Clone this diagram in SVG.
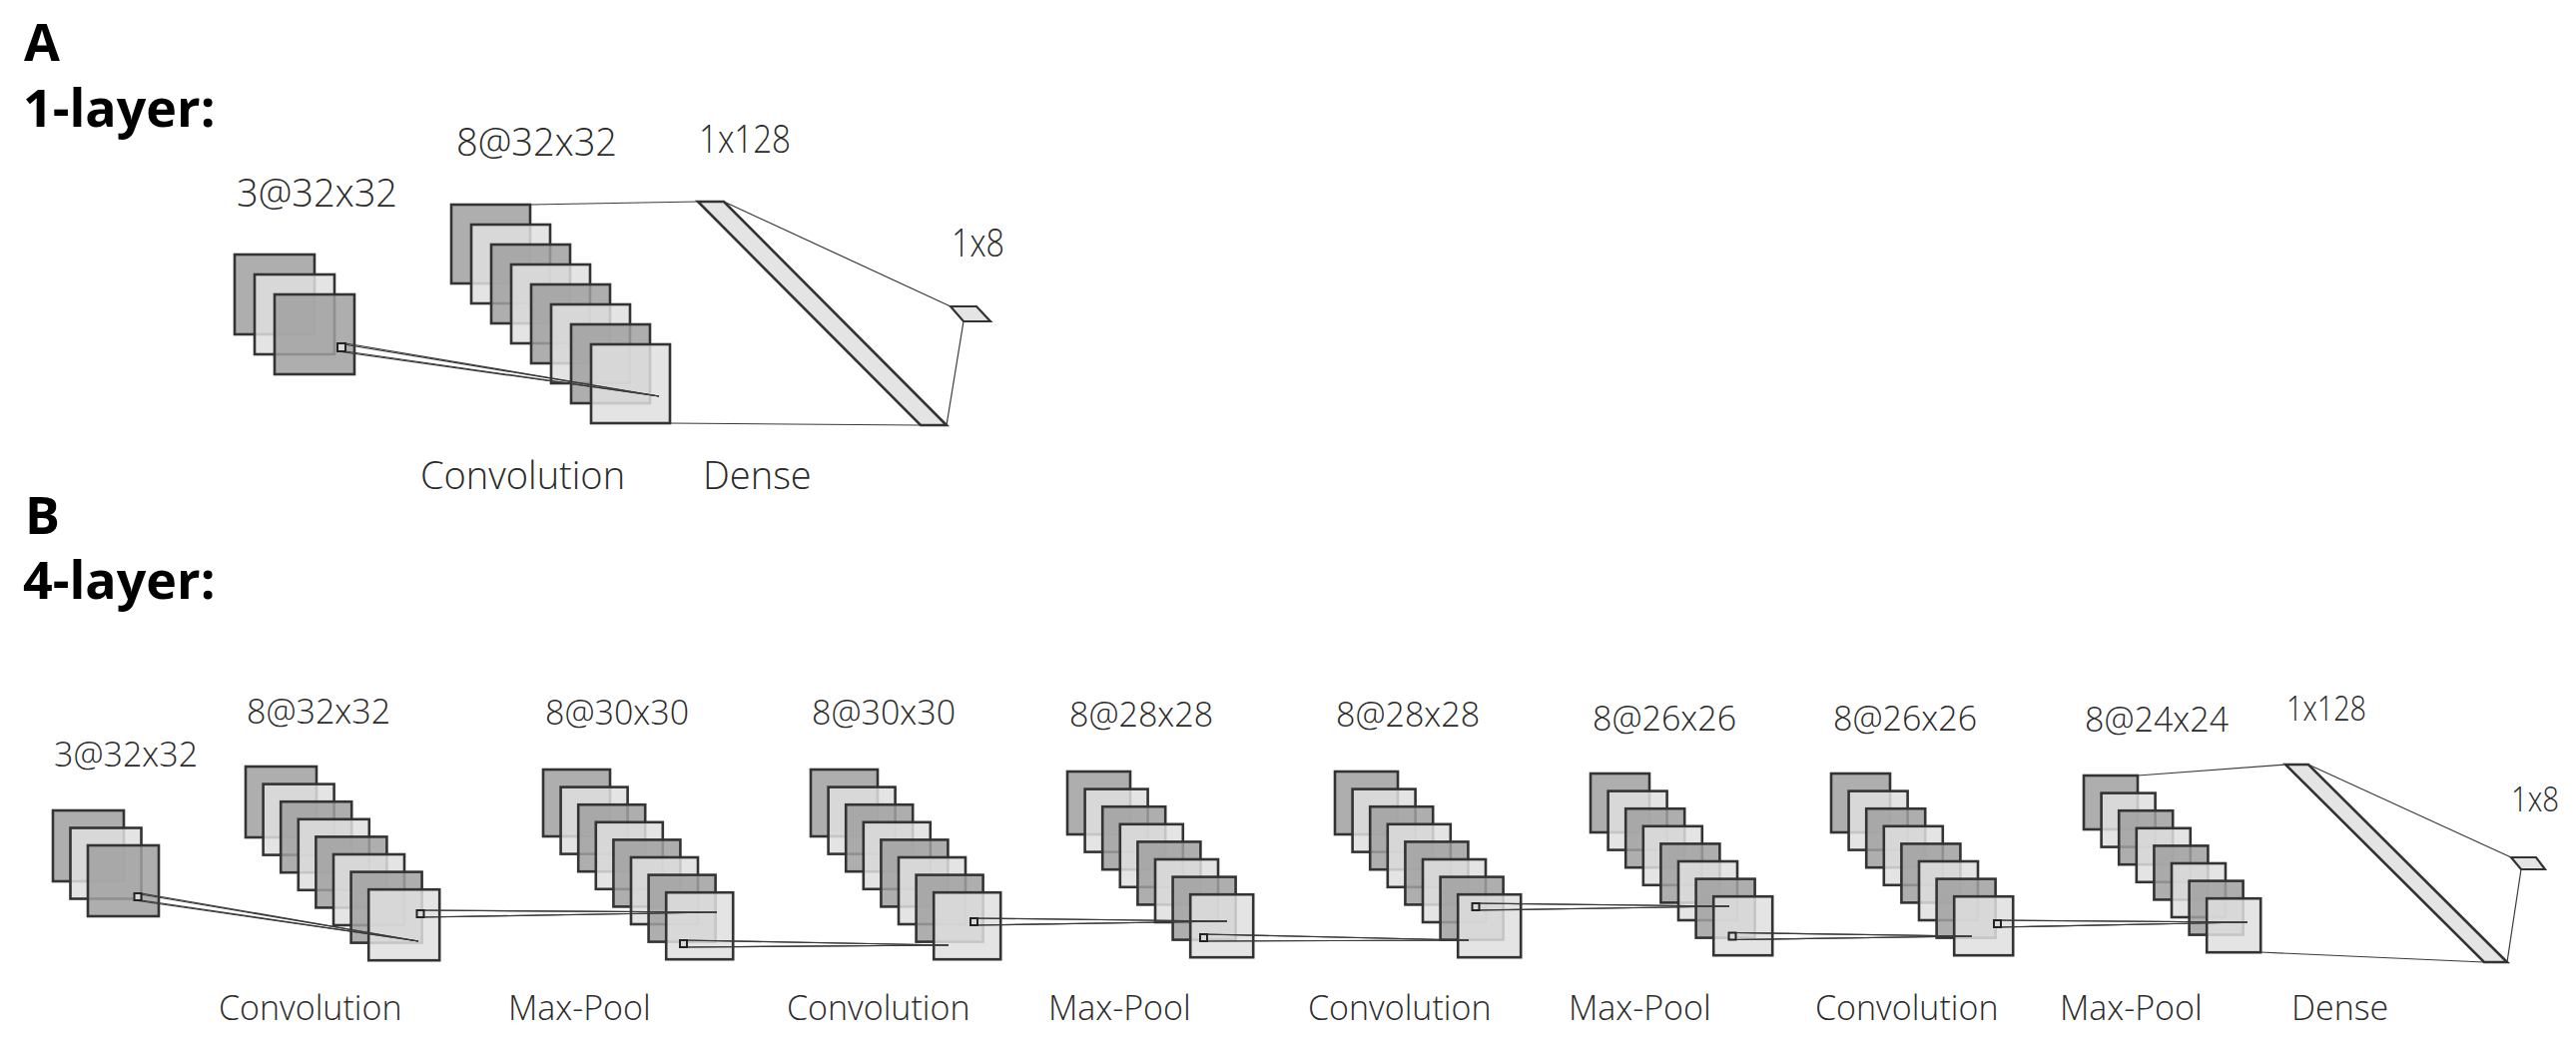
<svg xmlns="http://www.w3.org/2000/svg" width="2580" height="1047" viewBox="0 0 2580 1047">
<style>
.dk{fill:#a0a0a0;fill-opacity:.85;stroke:#333;stroke-width:2.6}
.lt{fill:#dfdfdf;fill-opacity:.85;stroke:#333;stroke-width:2.6}
.dn{fill:#e4e4e4;stroke:#333;stroke-width:2.6;stroke-linejoin:miter}
.ln{stroke:#3a3a3a;stroke-width:1.2;fill:none}
.pt{fill:#d8d8d8;stroke:#222;stroke-width:2}
.t{font-family:"Open Sans","Liberation Sans",sans-serif;font-weight:300;fill:#2a2a2a}
.ta{font-size:38px}
.tb{font-size:34px}
.h{font-family:"Open Sans","Liberation Sans",sans-serif;font-weight:700;font-size:52px;fill:#000}
</style>
<rect width="2580" height="1047" fill="#fff"/>
<g id="titles">
<text class="h" x="24" y="61">A</text>
<text class="h" x="23" y="127">1-layer:</text>
<text class="h" x="25" y="535">B</text>
<text class="h" x="23" y="600">4-layer:</text>
</g>
<!-- Panel A -->
<g id="A-input">
<rect class="dk" x="235" y="255" width="80" height="80"/>
<rect class="lt" x="255" y="275" width="80" height="80"/>
<rect class="dk" x="275" y="295" width="80" height="80"/>
<text class="t ta" x="237" y="207">3@32x32</text>
</g>
<g id="A-conv">
<rect class="dk" x="452" y="205" width="79" height="79"/>
<rect class="lt" x="472" y="225" width="79" height="79"/>
<rect class="dk" x="492" y="245" width="79" height="79"/>
<rect class="lt" x="512" y="265" width="79" height="79"/>
<rect class="dk" x="532" y="285" width="79" height="79"/>
<rect class="lt" x="552" y="305" width="79" height="79"/>
<rect class="dk" x="572" y="325" width="79" height="79"/>
<rect class="lt" x="592" y="345" width="79" height="79"/>
<text class="t ta" x="457" y="156">8@32x32</text>
<text class="t ta" x="421" y="490">Convolution</text>
</g>
<g id="A-dense">
<polygon class="dn" points="699,202 725,202 948,426 922,426"/>
<text class="t ta" x="700" y="153" textLength="92" lengthAdjust="spacingAndGlyphs">1x128</text>
<text class="t ta" x="704" y="490">Dense</text>
</g>
<g id="A-output">
<polygon class="dn" points="952,307 978,307 992,322 965,322" style="stroke-width:2.2"/>
<text class="t ta" x="953" y="257" textLength="53" lengthAdjust="spacingAndGlyphs">1x8</text>
</g>
<!-- Panel B -->
<g id="B-input">
<rect class="dk" x="53" y="812" width="71" height="71"/>
<rect class="lt" x="70.5" y="829.5" width="71" height="71"/>
<rect class="dk" x="88" y="847" width="71" height="71"/>
<text class="t tb" x="54" y="768">3@32x32</text>
</g>
<g id="B-conv1">
<rect class="dk" x="246" y="768" width="71" height="71"/>
<rect class="lt" x="263.6" y="785.6" width="71" height="71"/>
<rect class="dk" x="281.2" y="803.2" width="71" height="71"/>
<rect class="lt" x="298.8" y="820.8" width="71" height="71"/>
<rect class="dk" x="316.4" y="838.4" width="71" height="71"/>
<rect class="lt" x="334" y="856" width="71" height="71"/>
<rect class="dk" x="351.6" y="873.6" width="71" height="71"/>
<rect class="lt" x="369.2" y="891.2" width="71" height="71"/>
<text class="t tb" x="247" y="725">8@32x32</text>
<text class="t tb" x="219" y="1022">Convolution</text>
</g>
<g id="B-pool1">
<rect class="dk" x="544" y="771" width="67" height="67"/>
<rect class="lt" x="561.6" y="788.6" width="67" height="67"/>
<rect class="dk" x="579.2" y="806.2" width="67" height="67"/>
<rect class="lt" x="596.8" y="823.8" width="67" height="67"/>
<rect class="dk" x="614.4" y="841.4" width="67" height="67"/>
<rect class="lt" x="632" y="859" width="67" height="67"/>
<rect class="dk" x="649.6" y="876.6" width="67" height="67"/>
<rect class="lt" x="667.2" y="894.2" width="67" height="67"/>
<text class="t tb" x="546" y="726">8@30x30</text>
<text class="t tb" x="509" y="1022">Max-Pool</text>
</g>
<g id="B-conv2">
<rect class="dk" x="812" y="771" width="67" height="67"/>
<rect class="lt" x="829.6" y="788.6" width="67" height="67"/>
<rect class="dk" x="847.2" y="806.2" width="67" height="67"/>
<rect class="lt" x="864.8" y="823.8" width="67" height="67"/>
<rect class="dk" x="882.4" y="841.4" width="67" height="67"/>
<rect class="lt" x="900" y="859" width="67" height="67"/>
<rect class="dk" x="917.6" y="876.6" width="67" height="67"/>
<rect class="lt" x="935.2" y="894.2" width="67" height="67"/>
<text class="t tb" x="813" y="726">8@30x30</text>
<text class="t tb" x="788" y="1022">Convolution</text>
</g>
<g id="B-pool2">
<rect class="dk" x="1069" y="773" width="63" height="63"/>
<rect class="lt" x="1086.6" y="790.6" width="63" height="63"/>
<rect class="dk" x="1104.2" y="808.2" width="63" height="63"/>
<rect class="lt" x="1121.8" y="825.8" width="63" height="63"/>
<rect class="dk" x="1139.4" y="843.4" width="63" height="63"/>
<rect class="lt" x="1157" y="861" width="63" height="63"/>
<rect class="dk" x="1174.6" y="878.6" width="63" height="63"/>
<rect class="lt" x="1192.2" y="896.2" width="63" height="63"/>
<text class="t tb" x="1071" y="728">8@28x28</text>
<text class="t tb" x="1050" y="1022">Max-Pool</text>
</g>
<g id="B-conv3">
<rect class="dk" x="1337" y="773" width="63" height="63"/>
<rect class="lt" x="1354.6" y="790.6" width="63" height="63"/>
<rect class="dk" x="1372.2" y="808.2" width="63" height="63"/>
<rect class="lt" x="1389.8" y="825.8" width="63" height="63"/>
<rect class="dk" x="1407.4" y="843.4" width="63" height="63"/>
<rect class="lt" x="1425" y="861" width="63" height="63"/>
<rect class="dk" x="1442.6" y="878.6" width="63" height="63"/>
<rect class="lt" x="1460.2" y="896.2" width="63" height="63"/>
<text class="t tb" x="1338" y="728">8@28x28</text>
<text class="t tb" x="1310" y="1022">Convolution</text>
</g>
<g id="B-pool3">
<rect class="dk" x="1593" y="775" width="59" height="59"/>
<rect class="lt" x="1610.6" y="792.6" width="59" height="59"/>
<rect class="dk" x="1628.2" y="810.2" width="59" height="59"/>
<rect class="lt" x="1645.8" y="827.8" width="59" height="59"/>
<rect class="dk" x="1663.4" y="845.4" width="59" height="59"/>
<rect class="lt" x="1681" y="863" width="59" height="59"/>
<rect class="dk" x="1698.6" y="880.6" width="59" height="59"/>
<rect class="lt" x="1716.2" y="898.2" width="59" height="59"/>
<text class="t tb" x="1595" y="732">8@26x26</text>
<text class="t tb" x="1571" y="1022">Max-Pool</text>
</g>
<g id="B-conv4">
<rect class="dk" x="1834" y="775" width="59" height="59"/>
<rect class="lt" x="1851.6" y="792.6" width="59" height="59"/>
<rect class="dk" x="1869.2" y="810.2" width="59" height="59"/>
<rect class="lt" x="1886.8" y="827.8" width="59" height="59"/>
<rect class="dk" x="1904.4" y="845.4" width="59" height="59"/>
<rect class="lt" x="1922" y="863" width="59" height="59"/>
<rect class="dk" x="1939.6" y="880.6" width="59" height="59"/>
<rect class="lt" x="1957.2" y="898.2" width="59" height="59"/>
<text class="t tb" x="1836" y="732">8@26x26</text>
<text class="t tb" x="1818" y="1022">Convolution</text>
</g>
<g id="B-pool4">
<rect class="dk" x="2087" y="777" width="54" height="54"/>
<rect class="lt" x="2104.6" y="794.6" width="54" height="54"/>
<rect class="dk" x="2122.2" y="812.2" width="54" height="54"/>
<rect class="lt" x="2139.8" y="829.8" width="54" height="54"/>
<rect class="dk" x="2157.4" y="847.4" width="54" height="54"/>
<rect class="lt" x="2175" y="865" width="54" height="54"/>
<rect class="dk" x="2192.6" y="882.6" width="54" height="54"/>
<rect class="lt" x="2210.2" y="900.2" width="54" height="54"/>
<text class="t tb" x="2088" y="733">8@24x24</text>
<text class="t tb" x="2063" y="1022">Max-Pool</text>
</g>
<g id="B-dense">
<polygon class="dn" points="2289,766 2312,766 2511,964 2488,964"/>
<text class="t tb" x="2290" y="722" textLength="80" lengthAdjust="spacingAndGlyphs">1x128</text>
<text class="t tb" x="2295" y="1022">Dense</text>
</g>
<g id="B-output">
<polygon class="dn" points="2515,859 2540,859 2549,871 2525,871" style="stroke-width:2.2"/>
<text class="t tb" x="2515" y="813" textLength="48" lengthAdjust="spacingAndGlyphs">1x8</text>
</g>
<g id="connectors">
<!-- A -->
<line class="ln" x1="338" y1="344" x2="660" y2="397"/>
<line class="ln" x1="346" y1="344" x2="660" y2="397"/>
<line class="ln" x1="338" y1="352" x2="660" y2="397"/>
<line class="ln" x1="346" y1="352" x2="660" y2="397"/>
<rect class="pt" x="338" y="344" width="8" height="8"/>
<line class="ln" x1="531" y1="205" x2="699" y2="202"/>
<line class="ln" x1="671" y1="424" x2="922" y2="426"/>
<line class="ln" x1="725" y1="202" x2="952" y2="307"/>
<line class="ln" x1="948" y1="426" x2="965" y2="322"/>
<!-- B -->
<line class="ln" x1="134.5" y1="895" x2="419" y2="943"/>
<line class="ln" x1="141.5" y1="895" x2="419" y2="943"/>
<line class="ln" x1="134.5" y1="902" x2="419" y2="943"/>
<line class="ln" x1="141.5" y1="902" x2="419" y2="943"/>
<rect class="pt" x="134.5" y="895" width="7" height="7"/>
<line class="ln" x1="417.5" y1="912" x2="718" y2="914"/>
<line class="ln" x1="424.5" y1="912" x2="718" y2="914"/>
<line class="ln" x1="417.5" y1="919" x2="718" y2="914"/>
<line class="ln" x1="424.5" y1="919" x2="718" y2="914"/>
<rect class="pt" x="417.5" y="912" width="7" height="7"/>
<line class="ln" x1="681" y1="942" x2="950" y2="947"/>
<line class="ln" x1="688" y1="942" x2="950" y2="947"/>
<line class="ln" x1="681" y1="949" x2="950" y2="947"/>
<line class="ln" x1="688" y1="949" x2="950" y2="947"/>
<rect class="pt" x="681" y="942" width="7" height="7"/>
<line class="ln" x1="972" y1="920" x2="1229" y2="923"/>
<line class="ln" x1="979" y1="920" x2="1229" y2="923"/>
<line class="ln" x1="972" y1="927" x2="1229" y2="923"/>
<line class="ln" x1="979" y1="927" x2="1229" y2="923"/>
<rect class="pt" x="972" y="920" width="7" height="7"/>
<line class="ln" x1="1202" y1="936" x2="1471" y2="942"/>
<line class="ln" x1="1209" y1="936" x2="1471" y2="942"/>
<line class="ln" x1="1202" y1="943" x2="1471" y2="942"/>
<line class="ln" x1="1209" y1="943" x2="1471" y2="942"/>
<rect class="pt" x="1202" y="936" width="7" height="7"/>
<line class="ln" x1="1474.5" y1="905" x2="1732" y2="908"/>
<line class="ln" x1="1481.5" y1="905" x2="1732" y2="908"/>
<line class="ln" x1="1474.5" y1="912" x2="1732" y2="908"/>
<line class="ln" x1="1481.5" y1="912" x2="1732" y2="908"/>
<rect class="pt" x="1474.5" y="905" width="7" height="7"/>
<line class="ln" x1="1731.5" y1="934.5" x2="1975" y2="938"/>
<line class="ln" x1="1738.5" y1="934.5" x2="1975" y2="938"/>
<line class="ln" x1="1731.5" y1="941.5" x2="1975" y2="938"/>
<line class="ln" x1="1738.5" y1="941.5" x2="1975" y2="938"/>
<rect class="pt" x="1731.5" y="934.5" width="7" height="7"/>
<line class="ln" x1="1997" y1="922" x2="2251" y2="924"/>
<line class="ln" x1="2004" y1="922" x2="2251" y2="924"/>
<line class="ln" x1="1997" y1="929" x2="2251" y2="924"/>
<line class="ln" x1="2004" y1="929" x2="2251" y2="924"/>
<rect class="pt" x="1997" y="922" width="7" height="7"/>
<line class="ln" x1="2141" y1="777" x2="2289" y2="766"/>
<line class="ln" x1="2264" y1="954" x2="2488" y2="964"/>
<line class="ln" x1="2312" y1="766" x2="2515" y2="859"/>
<line class="ln" x1="2511" y1="964" x2="2525" y2="871"/>
</g>
</svg>
